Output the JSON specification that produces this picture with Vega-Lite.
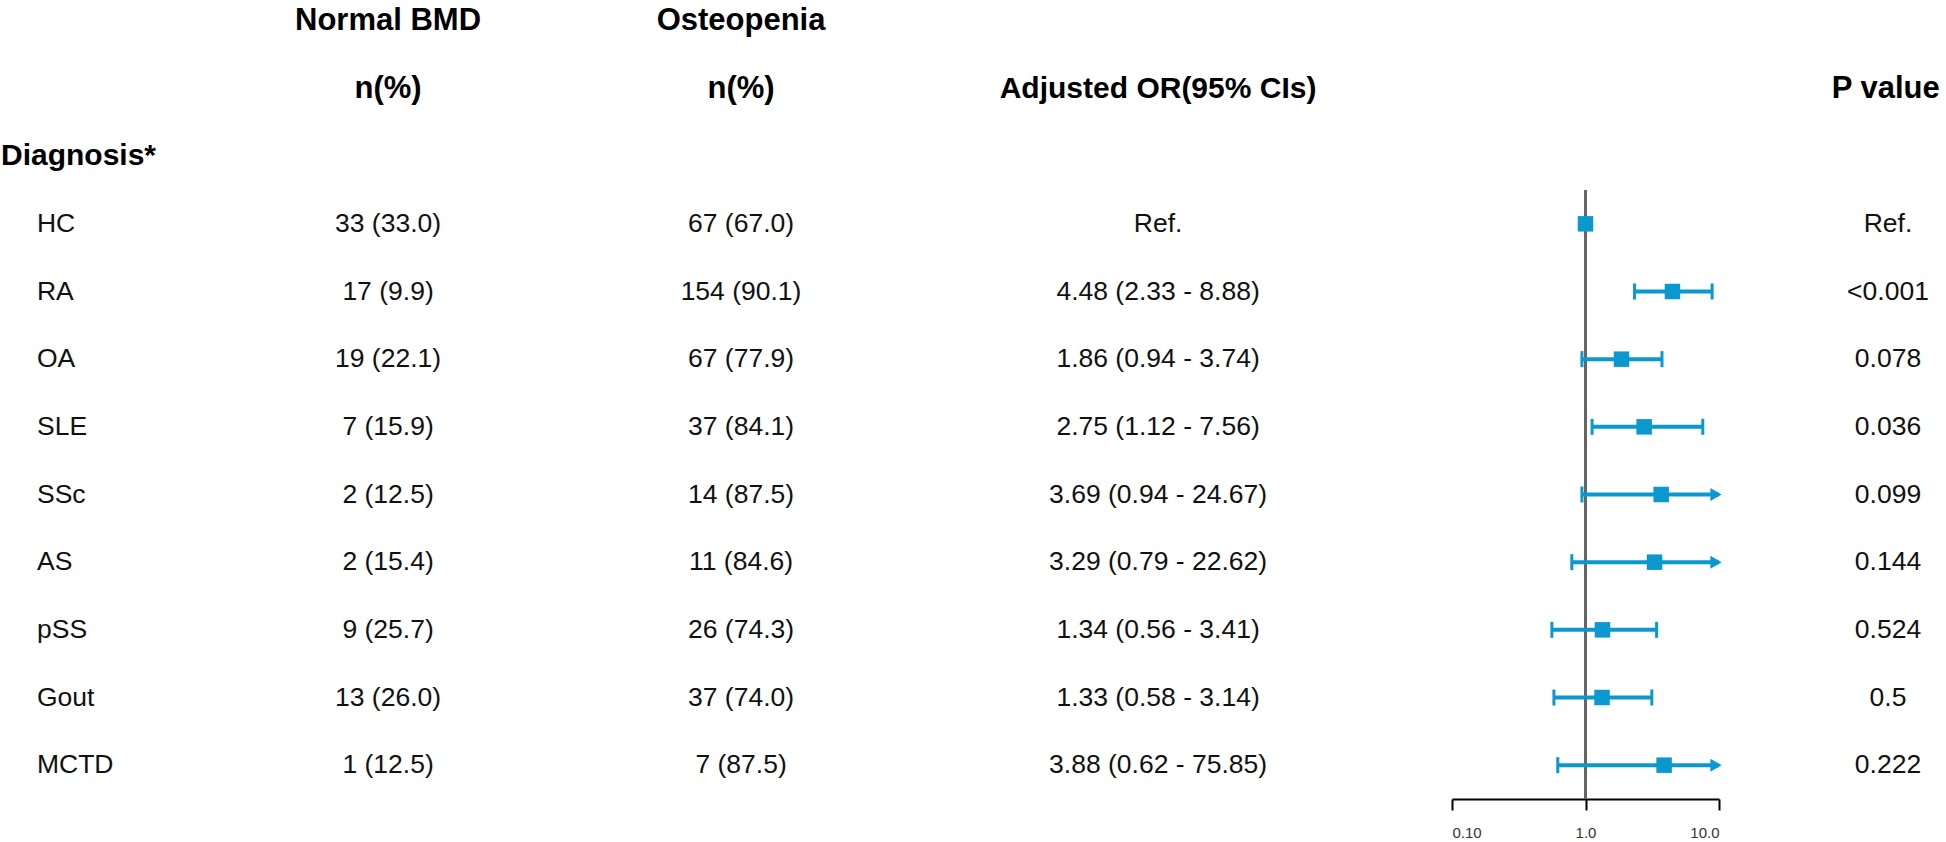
{
  "$schema": "https://vega.github.io/schema/vega-lite/v6.json",
  "width": 1946,
  "height": 799,
  "padding": 0,
  "autosize": {"type": "pad"},
  "background": "white",
  "config": {"view": {"stroke": null}, "text": {"font": "Liberation Sans", "color": "#111"}, "axis": {"labelFont": "Liberation Sans"}},
  "datasets": {
    "rows": [
      {"row": "HC", "normal": "33 (33.0)", "osteo": "67 (67.0)", "ortext": "Ref.", "p": "Ref.", "or": 1.0, "lo": null, "hi": null},
      {"row": "RA", "normal": "17 (9.9)", "osteo": "154 (90.1)", "ortext": "4.48 (2.33 - 8.88)", "p": "<0.001", "or": 4.48, "lo": 2.33, "hi": 8.88},
      {"row": "OA", "normal": "19 (22.1)", "osteo": "67 (77.9)", "ortext": "1.86 (0.94 - 3.74)", "p": "0.078", "or": 1.86, "lo": 0.94, "hi": 3.74},
      {"row": "SLE", "normal": "7 (15.9)", "osteo": "37 (84.1)", "ortext": "2.75 (1.12 - 7.56)", "p": "0.036", "or": 2.75, "lo": 1.12, "hi": 7.56},
      {"row": "SSc", "normal": "2 (12.5)", "osteo": "14 (87.5)", "ortext": "3.69 (0.94 - 24.67)", "p": "0.099", "or": 3.69, "lo": 0.94, "hi": 24.67},
      {"row": "AS", "normal": "2 (15.4)", "osteo": "11 (84.6)", "ortext": "3.29 (0.79 - 22.62)", "p": "0.144", "or": 3.29, "lo": 0.79, "hi": 22.62},
      {"row": "pSS", "normal": "9 (25.7)", "osteo": "26 (74.3)", "ortext": "1.34 (0.56 - 3.41)", "p": "0.524", "or": 1.34, "lo": 0.56, "hi": 3.41},
      {"row": "Gout", "normal": "13 (26.0)", "osteo": "37 (74.0)", "ortext": "1.33 (0.58 - 3.14)", "p": "0.5", "or": 1.33, "lo": 0.58, "hi": 3.14},
      {"row": "MCTD", "normal": "1 (12.5)", "osteo": "7 (87.5)", "ortext": "3.88 (0.62 - 75.85)", "p": "0.222", "or": 3.88, "lo": 0.62, "hi": 75.85}
    ],
    "headers": [
      {"row": "h1", "col": "normal", "label": "Normal BMD"},
      {"row": "h1", "col": "osteo", "label": "Osteopenia"},
      {"row": "h2", "col": "normal", "label": "n(%)"},
      {"row": "h2", "col": "osteo", "label": "n(%)"},
      {"row": "h2", "col": "or", "label": "Adjusted OR(95% CIs)"},
      {"row": "h2", "col": "p", "label": "P value"},
      {"row": "Diagnosis*", "col": "diag", "label": "Diagnosis*"}
    ]
  },
  "encoding": {
    "y": {
      "field": "row", "type": "nominal",
      "scale": {"type": "band", "domain": ["h1", "h2", "Diagnosis*", "HC", "RA", "OA", "SLE", "SSc", "AS", "pSS", "Gout", "MCTD"], "range": [-13, 799], "paddingInner": 0, "paddingOuter": 0},
      "axis": null
    }
  },
  "layer": [
    {
      "layer": [
        {"data": {"name": "headers"}, "transform": [{"filter": "datum.col === 'diag'"}],
         "mark": {"type": "text", "align": "left", "baseline": "middle", "fontSize": 30, "fontWeight": "bold", "color": "#000"},
         "encoding": {"x": {"datum": 0.05, "type": "quantitative", "scale": {"domain": [0, 100]}, "axis": null}, "text": {"field": "label"}}},
        {"data": {"name": "headers"}, "transform": [{"filter": "datum.col === 'normal'"}],
         "mark": {"type": "text", "align": "center", "baseline": "middle", "fontSize": 31, "fontWeight": "bold", "color": "#000"},
         "encoding": {"x": {"datum": 19.94, "type": "quantitative", "axis": null}, "text": {"field": "label"}}},
        {"data": {"name": "headers"}, "transform": [{"filter": "datum.col === 'osteo'"}],
         "mark": {"type": "text", "align": "center", "baseline": "middle", "fontSize": 31, "fontWeight": "bold", "color": "#000"},
         "encoding": {"x": {"datum": 38.08, "type": "quantitative", "axis": null}, "text": {"field": "label"}}},
        {"data": {"name": "headers"}, "transform": [{"filter": "datum.col === 'or'"}],
         "mark": {"type": "text", "align": "center", "baseline": "middle", "fontSize": 30, "fontWeight": "bold", "color": "#000"},
         "encoding": {"x": {"datum": 59.51, "type": "quantitative", "axis": null}, "text": {"field": "label"}}},
        {"data": {"name": "headers"}, "transform": [{"filter": "datum.col === 'p'"}],
         "mark": {"type": "text", "align": "center", "baseline": "middle", "fontSize": 31, "fontWeight": "bold", "color": "#000"},
         "encoding": {"x": {"datum": 96.9, "type": "quantitative", "axis": null}, "text": {"field": "label"}}},
        {"data": {"name": "rows"},
         "mark": {"type": "text", "align": "left", "baseline": "middle", "fontSize": 26.5},
         "encoding": {"x": {"datum": 1.9, "type": "quantitative", "axis": null}, "text": {"field": "row"}}},
        {"data": {"name": "rows"},
         "mark": {"type": "text", "align": "center", "baseline": "middle", "fontSize": 26.5},
         "encoding": {"x": {"datum": 19.94, "type": "quantitative", "axis": null}, "text": {"field": "normal"}}},
        {"data": {"name": "rows"},
         "mark": {"type": "text", "align": "center", "baseline": "middle", "fontSize": 26.5},
         "encoding": {"x": {"datum": 38.08, "type": "quantitative", "axis": null}, "text": {"field": "osteo"}}},
        {"data": {"name": "rows"},
         "mark": {"type": "text", "align": "center", "baseline": "middle", "fontSize": 26.5},
         "encoding": {"x": {"datum": 59.51, "type": "quantitative", "axis": null}, "text": {"field": "ortext"}}},
        {"data": {"name": "rows"},
         "mark": {"type": "text", "align": "center", "baseline": "middle", "fontSize": 26.5},
         "encoding": {"x": {"datum": 97.02, "type": "quantitative", "axis": null}, "text": {"field": "p"}}}
      ]
    },
    {
      "data": {"name": "rows"},
      "layer": [
        {"mark": {"type": "rule", "color": "#666", "strokeWidth": 2.5},
         "encoding": {
           "x": {"datum": 1, "type": "quantitative",
                 "scale": {"type": "log", "domain": [0.1, 10], "range": [1452, 1719], "clamp": true},
                 "axis": {"values": [0.1, 1, 10], "labelExpr": "datum.value < 0.5 ? '0.10' : datum.value < 5 ? '1.0' : '10.0'", "grid": false, "title": null, "domainColor": "#000", "domainWidth": 2, "tickColor": "#000", "tickWidth": 2, "tickSize": 11, "labelFontSize": 15, "labelColor": "#333", "labelPadding": 15}},
           "y": {"datum": "HC", "bandPosition": 0},
           "y2": {"value": "height"}}},
        {"transform": [{"filter": "isValid(datum.lo)"}],
         "mark": {"type": "rule", "color": "#0a98ce", "strokeWidth": 4},
         "encoding": {"x": {"field": "lo", "type": "quantitative", "title": null}, "x2": {"field": "hi"}}},
        {"transform": [{"filter": "isValid(datum.lo)"}],
         "mark": {"type": "tick", "color": "#0a98ce", "thickness": 3, "size": 16, "opacity": 1},
         "encoding": {"x": {"field": "lo", "type": "quantitative", "title": null}}},
        {"transform": [{"filter": "isValid(datum.hi) && datum.hi <= 10"}],
         "mark": {"type": "tick", "color": "#0a98ce", "thickness": 3, "size": 16, "opacity": 1},
         "encoding": {"x": {"field": "hi", "type": "quantitative", "title": null}}},
        {"transform": [{"filter": "isValid(datum.hi) && datum.hi > 10"}],
         "mark": {"type": "point", "shape": "triangle-right", "filled": true, "color": "#0a98ce", "size": 170, "opacity": 1, "xOffset": -3},
         "encoding": {"x": {"field": "hi", "type": "quantitative", "title": null}}},
        {"mark": {"type": "point", "shape": "square", "filled": true, "color": "#0a98ce", "size": 240, "opacity": 1},
         "encoding": {"x": {"field": "or", "type": "quantitative", "title": null}}}
      ]
    }
  ],
  "resolve": {"scale": {"x": "independent"}, "axis": {"x": "independent"}}
}
